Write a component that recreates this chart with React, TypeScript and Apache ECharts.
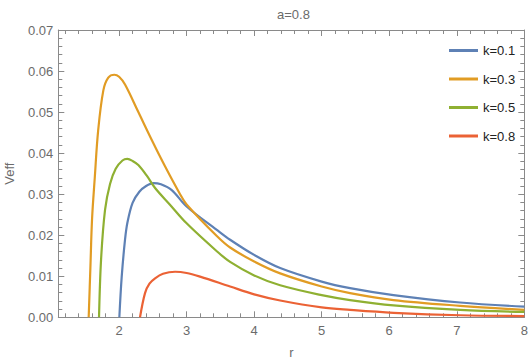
import React, { useEffect, useRef } from "react";
import * as echarts from "echarts";

const titleText = "a=0.8";
const seriesNames = ["k=0.1", "k=0.3", "k=0.5", "k=0.8"];
const colors = ["#5E81B5", "#E19C24", "#8FB032", "#EB6235"];

const k01: [number, number][] = [
  [2.004, 0], [2.039, 0.0099], [2.088, 0.0189], [2.125, 0.0232], [2.2, 0.0279],
  [2.3, 0.0306], [2.4, 0.032], [2.51, 0.0327], [2.62, 0.0324], [2.78, 0.031],
  [3.0, 0.027], [3.447, 0.0213], [3.644, 0.0189], [4.0, 0.0152], [4.385, 0.012],
  [5.0, 0.0087], [5.42, 0.0071], [6.063, 0.0054], [7.05, 0.0036], [8, 0.0026],
];
const k03: [number, number][] = [
  [1.55, 0], [1.575, 0.012], [1.6, 0.024], [1.64, 0.034], [1.69, 0.0455],
  [1.767, 0.0553], [1.84, 0.0584], [1.93, 0.0591], [2.0, 0.0586], [2.088, 0.0567],
  [2.285, 0.05], [2.484, 0.0432], [2.68, 0.0368], [2.903, 0.03], [3.0, 0.0275],
  [3.447, 0.0198], [3.644, 0.017], [4.0, 0.0136], [4.385, 0.0107], [5.0, 0.0075],
  [5.42, 0.0059], [6.063, 0.0042], [7.05, 0.0028], [8, 0.0018],
];
const k05: [number, number][] = [
  [1.703, 0], [1.733, 0.014], [1.792, 0.0262], [1.866, 0.0325], [1.95, 0.0362],
  [2.05, 0.0382], [2.122, 0.0386], [2.2, 0.0381], [2.285, 0.0371], [2.41, 0.0345],
  [2.533, 0.0315], [2.75, 0.0275], [3.0, 0.0229], [3.447, 0.0161], [3.644, 0.0135],
  [4.0, 0.0102], [4.385, 0.0078], [5.0, 0.0054], [5.42, 0.0042], [6.063, 0.0029],
  [7.05, 0.0018], [8, 0.0013],
];
const k08: [number, number][] = [
  [2.31, 0], [2.384, 0.0059], [2.45, 0.0082], [2.533, 0.0095], [2.65, 0.0106],
  [2.829, 0.0111], [3.0, 0.0108], [3.2, 0.0099], [3.644, 0.0075], [4.0, 0.0056],
  [4.385, 0.0041], [5.0, 0.0024], [5.42, 0.0018], [6.063, 0.0011], [7.05, 0.0005],
  [8, 0.0003],
];
const seriesData = [k01, k03, k05, k08];

const xMajorTicks = [2, 3, 4, 5, 6, 7, 8];
const xMinorTicks = [
  1.2, 1.4, 1.6, 1.8, 2.2, 2.4, 2.6, 2.8, 3.2, 3.4, 3.6, 3.8, 4.2, 4.4, 4.6, 4.8,
  5.2, 5.4, 5.6, 5.8, 6.2, 6.4, 6.6, 6.8, 7.2, 7.4, 7.6, 7.8,
];

const frameColor = "#8a8a8a";
const labelColor = "#6b6b6b";
const font = "'Liberation Sans', Arial, sans-serif";

export default function App() {
  const ref = useRef<HTMLDivElement>(null);
  useEffect(() => {
    if (!ref.current) return;
    const chart = echarts.init(ref.current, null, { renderer: "svg" });
    const xBase = (position: "bottom" | "top", ticks: number[], len: number, showLine: boolean, labels: boolean) => ({
      type: "value",
      min: 1.1,
      max: 8,
      position,
      axisLine: { show: showLine, onZero: false, lineStyle: { color: frameColor, width: 1 } },
      axisTick: { show: true, inside: true, length: len, customValues: ticks, lineStyle: { color: frameColor } },
      axisLabel: {
        show: labels,
        customValues: ticks,
        color: labelColor,
        fontSize: 13,
        fontFamily: font,
        margin: 7,
      },
      splitLine: { show: false },
    });
    const yBase = (position: "left" | "right", labels: boolean) => ({
      type: "value",
      min: 0,
      max: 0.07,
      interval: 0.01,
      position,
      axisLine: { show: true, onZero: false, lineStyle: { color: frameColor, width: 1 } },
      axisTick: { show: true, inside: true, length: 6, lineStyle: { color: frameColor } },
      minorTick: { show: true, splitNumber: 5, length: 4, lineStyle: { color: frameColor } },
      axisLabel: {
        show: labels,
        color: labelColor,
        fontSize: 13,
        fontFamily: font,
        margin: 5,
        formatter: (v: number) => v.toFixed(2),
      },
      splitLine: { show: false },
    });
    chart.setOption({
      animation: false,
      title: {
        text: titleText,
        left: 272,
        top: 3,
        textStyle: { color: labelColor, fontSize: 13, fontWeight: "normal", fontFamily: font },
      },
      grid: { left: 58.3, right: 3.7, top: 30, bottom: 44.7, containLabel: false, outerBoundsMode: "none" },
      legend: {
        orient: "vertical",
        left: 444,
        top: 39,
        icon: "rect",
        itemWidth: 29,
        itemHeight: 3,
        itemGap: 15.5,
        textStyle: { color: "#222", fontSize: 13, fontFamily: font },
        data: seriesNames,
      },
      xAxis: [
        { ...xBase("bottom", xMajorTicks, 6, true, true), name: "r", nameLocation: "middle", nameGap: 29, nameTextStyle: { color: labelColor, fontSize: 13, fontFamily: font } },
        xBase("bottom", xMinorTicks, 4, false, false),
        xBase("top", xMajorTicks, 6, true, false),
        xBase("top", xMinorTicks, 4, false, false),
      ],
      yAxis: [
        { ...yBase("left", true), name: "Veff", nameLocation: "middle", nameGap: 42, nameTextStyle: { color: labelColor, fontSize: 13, fontFamily: font } },
        yBase("right", false),
      ],
      series: seriesData.map((d, i) => ({
        name: seriesNames[i],
        type: "line",
        data: d,
        xAxisIndex: 0,
        yAxisIndex: 0,
        symbol: "none",
        smooth: 0.35,
        clip: true,
        lineStyle: { color: colors[i], width: 2.2 },
        itemStyle: { color: colors[i] },
      })),
    });
    return () => chart.dispose();
  }, []);
  return <div ref={ref} style={{ width: 528, height: 362, position: "absolute", left: 0, top: 0 }} />;
}
